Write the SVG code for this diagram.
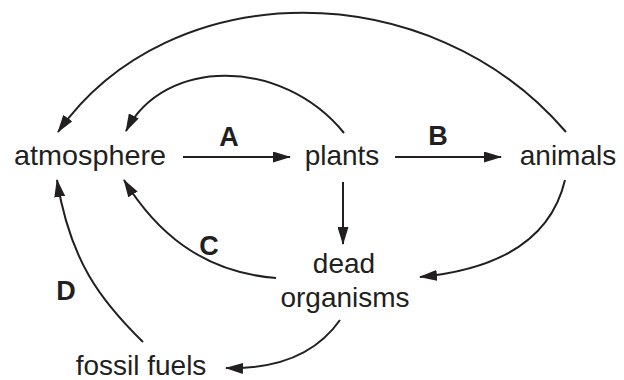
<svg xmlns="http://www.w3.org/2000/svg" width="624" height="380" viewBox="0 0 624 380">
<style>
.n{font-family:"Liberation Sans",Arial,Helvetica,sans-serif;font-size:28px;fill:#231f20;text-anchor:middle}
.l{font-family:"Liberation Sans",Arial,Helvetica,sans-serif;font-size:27px;font-weight:bold;fill:#231f20;text-anchor:middle}
.e{fill:none;stroke:#231f20;stroke-width:2}
</style>
<defs>
<marker id="ah" markerUnits="userSpaceOnUse" viewBox="0 0 18 11" refX="17" refY="5.5" markerWidth="18" markerHeight="11" orient="auto">
<path d="M0,0 L18,5.5 L0,11 z" fill="#231f20"/>
</marker>
</defs>
<rect width="624" height="380" fill="#fff"/>
<g id="connectors">
<path class="e" marker-end="url(#ah)" d="M183,157 L290,157"/>
<path class="e" marker-end="url(#ah)" d="M395,157 L501,157"/>
<path class="e" marker-end="url(#ah)" d="M343,182 L343,244"/>
<path class="e" marker-end="url(#ah)" d="M566,132 C430,-27 170,-27 58,132"/>
<path class="e" marker-end="url(#ah)" d="M344,133 C282,57 164,57 126,131"/>
<path class="e" marker-end="url(#ah)" d="M565,180 Q545,265 420,277"/>
<path class="e" marker-end="url(#ah)" d="M276,278 C200,272 155,230 124,180"/>
<path class="e" marker-end="url(#ah)" d="M143,342 C100,300 70,260 57,180"/>
<path class="e" marker-end="url(#ah)" d="M340,320 Q305,370 226,368"/>
</g>
<g id="atmosphere"><text class="n" x="90" y="165" textLength="152" lengthAdjust="spacingAndGlyphs">atmosphere</text></g>
<g id="plants"><text class="n" x="342" y="165">plants</text></g>
<g id="animals"><text class="n" x="568" y="165">animals</text></g>
<g id="dead-organisms"><text class="n" x="344" y="273">dead</text><text class="n" x="345" y="307">organisms</text></g>
<g id="fossil-fuels"><text class="n" x="141" y="375">fossil fuels</text></g>
<g id="labels">
<text class="l" x="229" y="146">A</text>
<text class="l" x="438" y="145">B</text>
<text class="l" x="209" y="255">C</text>
<text class="l" x="66" y="300">D</text>
</g>
</svg>
